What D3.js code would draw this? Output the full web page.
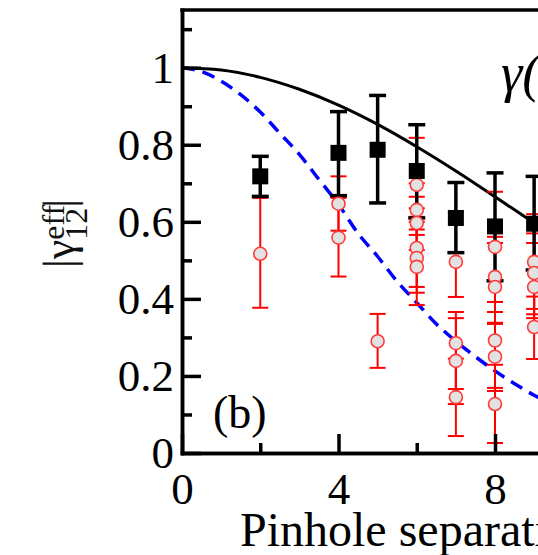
<!DOCTYPE html>
<html>
<head>
<meta charset="utf-8">
<script src="https://cdn.jsdelivr.net/npm/d3@7"></script>
<style>
  html, body { margin: 0; padding: 0; background: #fff; }
  svg { display: block; font-family: "Liberation Serif", "DejaVu Serif", serif; }
</style>
</head>
<body>
<script>
// black squares: averaged visibility per separation
const blackSep = [2, 4, 5, 6, 7, 8, 9];
const blackVal = [0.718, 0.779, 0.787, 0.732, 0.610, 0.588, 0.595];
const blackLo  = [0.666, 0.668, 0.649, 0.610, 0.520, 0.447, 0.475];
const blackHi  = [0.770, 0.886, 0.928, 0.852, 0.702, 0.727, 0.718];

// red circles: individual measurements
const redSep = [2, 4, 4, 5, 6, 6, 6, 6, 6, 6, 7, 7, 7, 7, 8, 8, 8, 8, 8, 8, 9, 9, 9, 9];
const redVal = [0.517, 0.647, 0.559, 0.290, 0.696, 0.631, 0.597, 0.532, 0.506, 0.483,
                0.496, 0.285, 0.239, 0.145, 0.535, 0.457, 0.431, 0.292, 0.250, 0.127,
                0.496, 0.467, 0.431, 0.327];
const redLo  = [0.377, 0.577, 0.458, 0.221, 0.613, 0.566, 0.527, 0.431, 0.416, 0.384,
                0.405, 0.166, 0.127, 0.044, 0.392, 0.366, 0.338, 0.169, 0.161, 0.026,
                0.374, 0.360, 0.350, 0.244];
const redHi  = [0.662, 0.718, 0.662, 0.361, 0.818, 0.700, 0.665, 0.635, 0.600, 0.580,
                0.626, 0.366, 0.350, 0.245, 0.678, 0.561, 0.545, 0.392, 0.335, 0.229,
                0.620, 0.570, 0.545, 0.406];

// theory curves
const solidSep = [0, 1, 2, 3, 4, 5, 6, 7, 8, 9, 10, 11, 12];
const solidVal = [1.0, 0.994, 0.975, 0.944, 0.903, 0.853, 0.795, 0.732, 0.665, 0.597, 0.53, 0.46, 0.40];
const dashSep = [0, 0.5, 1, 1.5, 2, 2.5, 3, 3.5, 4, 4.5, 5, 5.5, 6, 6.5, 7, 7.5, 8, 8.5, 9, 9.5, 10, 11, 12];
const dashVal = [1.0, 0.99, 0.965, 0.93, 0.885, 0.83, 0.775, 0.71, 0.645, 0.57, 0.51, 0.445,
                 0.39, 0.335, 0.29, 0.25, 0.213, 0.18, 0.15, 0.125, 0.105, 0.075, 0.055];

const xMajor = [0, 4, 8];
const xMinor = [2, 6];
const yMajor = [0, 0.2, 0.4, 0.6, 0.8, 1];
const yMinor = [0.1, 0.3, 0.5, 0.7, 0.9, 1.1];

document.addEventListener("DOMContentLoaded", function () {
  const width = 538, height = 555;

  const x = d3.scaleLinear().domain([0, 14]).range([182, 182 + 14 * 39.125]);
  const y = d3.scaleLinear().domain([0, 1.15]).range([453, 453 - 1.15 * 385.3]);

  const svg = d3.select("body").append("svg")
    .attr("width", width)
    .attr("height", height);

  svg.append("rect").attr("width", width).attr("height", height).attr("fill", "#fff");

  // curves
  const line = d3.line().x(d => x(d[0])).y(d => y(d[1])).curve(d3.curveMonotoneX);

  svg.append("path")
    .attr("d", line(d3.zip(solidSep, solidVal)))
    .attr("fill", "none")
    .attr("stroke", "#000")
    .attr("stroke-width", 3);

  svg.append("path")
    .attr("d", line(d3.zip(dashSep, dashVal)))
    .attr("fill", "none")
    .attr("stroke", "#0000ff")
    .attr("stroke-width", 3.5)
    .attr("stroke-dasharray", "13 8");

  const red = d3.range(redSep.length);
  const black = d3.range(blackSep.length);

  // red error bars
  const redBars = svg.append("g").attr("stroke", "#ff0000").attr("stroke-width", 2);
  redBars.selectAll("line.v").data(red).join("line")
    .attr("x1", i => x(redSep[i])).attr("x2", i => x(redSep[i]))
    .attr("y1", i => y(redLo[i])).attr("y2", i => y(redHi[i]));
  redBars.selectAll("line.lo").data(red).join("line").attr("class", "lo")
    .attr("x1", i => x(redSep[i]) - 8).attr("x2", i => x(redSep[i]) + 8)
    .attr("y1", i => y(redLo[i])).attr("y2", i => y(redLo[i]));
  redBars.selectAll("line.hi").data(red).join("line").attr("class", "hi")
    .attr("x1", i => x(redSep[i]) - 8).attr("x2", i => x(redSep[i]) + 8)
    .attr("y1", i => y(redHi[i])).attr("y2", i => y(redHi[i]));

  // black error bars
  const blackBars = svg.append("g").attr("stroke", "#000").attr("stroke-width", 3.5);
  blackBars.selectAll("line.v").data(black).join("line").attr("class", "v")
    .attr("x1", i => x(blackSep[i])).attr("x2", i => x(blackSep[i]))
    .attr("y1", i => y(blackLo[i])).attr("y2", i => y(blackHi[i]));
  blackBars.selectAll("line.lo").data(black).join("line").attr("class", "lo")
    .attr("x1", i => x(blackSep[i]) - 8.5).attr("x2", i => x(blackSep[i]) + 8.5)
    .attr("y1", i => y(blackLo[i])).attr("y2", i => y(blackLo[i]));
  blackBars.selectAll("line.hi").data(black).join("line").attr("class", "hi")
    .attr("x1", i => x(blackSep[i]) - 8.5).attr("x2", i => x(blackSep[i]) + 8.5)
    .attr("y1", i => y(blackHi[i])).attr("y2", i => y(blackHi[i]));

  // red circles
  svg.append("g").selectAll("circle").data(red).join("circle")
    .attr("cx", i => x(redSep[i]))
    .attr("cy", i => y(redVal[i]))
    .attr("r", 6.5)
    .attr("fill", "#e2e2e2")
    .attr("stroke", "#ff3b3b")
    .attr("stroke-width", 1.6);

  // black squares
  svg.append("g").selectAll("rect").data(black).join("rect")
    .attr("x", i => x(blackSep[i]) - 8)
    .attr("y", i => y(blackVal[i]) - 8)
    .attr("width", 16).attr("height", 16)
    .attr("fill", "#000");

  // axes
  const styleAxis = g => {
    g.selectAll(".domain").attr("stroke-width", 3.5).attr("stroke-linecap", "square");
    g.selectAll(".tick line").attr("stroke-width", 3.5);
    g.selectAll(".tick text").attr("font-size", 45).attr("font-family", "Liberation Serif").attr("fill", "#000");
  };

  svg.append("g")
    .attr("transform", `translate(0,${y(0)})`)
    .call(d3.axisBottom(x).tickValues(xMinor).tickFormat("").tickSizeInner(-10).tickSizeOuter(0))
    .call(styleAxis);
  svg.append("g")
    .attr("transform", `translate(0,${y(0)})`)
    .call(d3.axisBottom(x).tickValues(xMajor).tickFormat(d3.format("d")).tickSizeInner(-19).tickSizeOuter(0).tickPadding(19))
    .call(styleAxis);

  svg.append("g")
    .attr("transform", `translate(${x(0)},0)`)
    .call(d3.axisLeft(y).tickValues(yMinor).tickFormat("").tickSizeInner(-10).tickSizeOuter(0))
    .call(styleAxis);
  svg.append("g")
    .attr("transform", `translate(${x(0)},0)`)
    .call(d3.axisLeft(y).tickValues(yMajor).tickFormat(d => d === 0 || d === 1 ? d3.format("d")(d) : d3.format(".1f")(d))
      .tickSizeInner(-19).tickSizeOuter(0).tickPadding(8))
    .call(styleAxis);

  // top frame
  svg.append("line")
    .attr("x1", x(0)).attr("x2", x(14))
    .attr("y1", y(1.15)).attr("y2", y(1.15))
    .attr("stroke", "#000").attr("stroke-width", 3.5).attr("stroke-linecap", "square");

  // y title |γ12eff|
  const yTitle = svg.append("text")
    .attr("transform", "translate(74,268) rotate(-90)")
    .attr("font-size", 44)
    .attr("fill", "#111");
  yTitle.append("tspan").text("|γ");
  yTitle.append("tspan").attr("font-size", 32).attr("dy", -10).text("eff");
  yTitle.append("tspan").attr("font-size", 32).attr("dx", -35).attr("dy", 23).text("12");
  yTitle.append("tspan").attr("dy", -13).text("|");

  // x title
  svg.append("text")
    .attr("x", 240).attr("y", 546)
    .attr("font-size", 48)
    .text("Pinhole separation (mm)");

  // panel label
  svg.append("text")
    .attr("x", 213).attr("y", 428)
    .attr("font-size", 46)
    .text("(b)");

  // formula text cut at the right edge
  svg.append("text")
    .attr("x", 501).attr("y", 91)
    .attr("font-size", 54)
    .attr("font-style", "italic")
    .text("γ(d)");
});
</script>
</body>
</html>
